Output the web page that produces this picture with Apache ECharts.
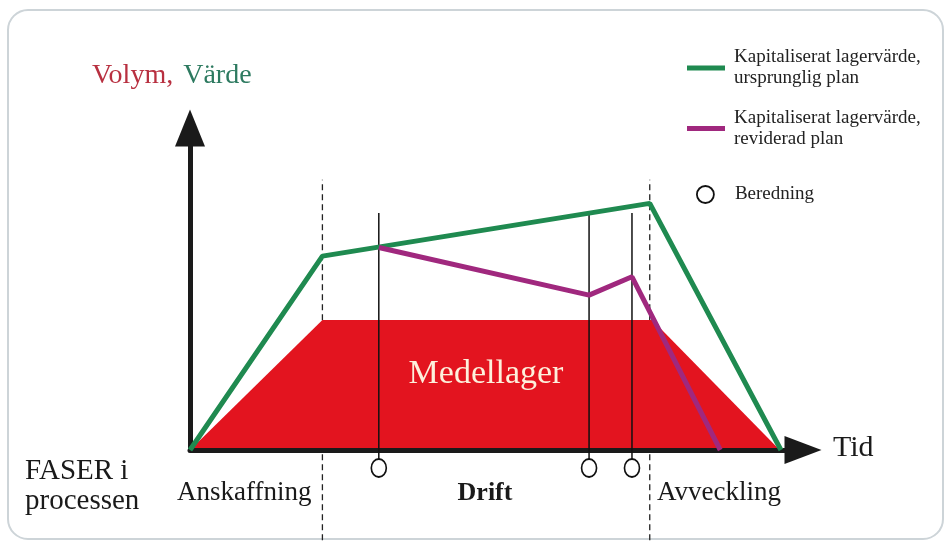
<!DOCTYPE html>
<html>
<head>
<meta charset="utf-8">
<title>Medellager</title>
<script src="https://cdn.jsdelivr.net/npm/echarts@6/dist/echarts.min.js"></script>
<style>
  html, body { margin: 0; background: #fff; }
  #chart { width: 949px; height: 544px; }
</style>
</head>
<body>
<div id="chart"></div>
<script>
// tid (x) och volym/värde (y) i godtyckliga enheter, 0..100
const greenX = [0, 21.6, 75.0, 96.4];
const greenY = [0, 60.2, 76.6, 0];
const purpleX = [30.8, 65.1, 72.1, 86.5];
const purpleY = [62.9, 48.1, 53.8, 0];
const stockX = [0, 21.6, 75.4, 96.2];
const stockY = [0, 40.4, 40.4, 0];
const berednX = [30.8, 65.1, 72.1];
const berednTop = 73.6;
const berednLow = -5.6;
const phaseX = [21.6, 75.0];
const phaseTop = 83.9;
const phaseBottom = -28;

const greenName = "Kapitaliserat lagervärde, ursprunglig plan";
const purpleName = "Kapitaliserat lagervärde, reviderad plan";
const berednName = "Beredning";

const serif = '"Liberation Serif", "DejaVu Serif", serif';
const GREEN = "#1f8a50";
const PURPLE = "#a0287e";
const RED = "#e3141f";

const zip = (xs, ys) => xs.map((x, i) => [x, ys[i]]);

let chart = echarts.init(document.getElementById("chart"));

let series = [];
// streckade faslinjer
phaseX.forEach((x) => {
  series.push({
    type: "line",
    data: [[x, phaseBottom], [x, phaseTop]],
    symbol: "none",
    clip: false,
    silent: true,
    z: 1,
    lineStyle: { type: [6, 4], width: 1.3, color: "#222" },
  });
});
// medellager
series.push({
  type: "line",
  name: "Medellager",
  data: zip(stockX, stockY),
  symbol: "none",
  z: 2,
  lineStyle: { width: 0 },
  itemStyle: { color: RED },
  areaStyle: { color: RED, opacity: 1 },
});
// beredningslinjer
berednX.forEach((x) => {
  series.push({
    type: "line",
    data: [[x, -3.4], [x, berednTop]],
    symbol: "none",
    clip: false,
    silent: true,
    z: 3,
    lineStyle: { width: 1.5, color: "#111" },
  });
});
series.push({
  type: "line",
  name: greenName,
  data: zip(greenX, greenY),
  symbol: "none",
  z: 4,
  itemStyle: { color: GREEN },
  lineStyle: { width: 5, color: GREEN },
});
series.push({
  type: "line",
  name: purpleName,
  data: zip(purpleX, purpleY),
  symbol: "none",
  z: 4,
  itemStyle: { color: PURPLE },
  lineStyle: { width: 5, color: PURPLE },
});
series.push({
  type: "scatter",
  name: berednName,
  data: berednX.map((x) => [x, berednLow]),
  symbol: "circle",
  symbolSize: [15, 18],
  clip: false,
  z: 5,
  itemStyle: { color: "#fff", borderColor: "#111", borderWidth: 1.8, opacity: 1 },
});

const legendText = {
  fontFamily: serif,
  fontSize: 19,
  lineHeight: 21,
  color: "#222",
};

chart.setOption({
  animation: false,
  title: {
    text: "{a|Volym,}  {b|Värde}",
    left: 92,
    top: 62,
    padding: 0,
    textStyle: {
      rich: {
        a: { color: "#b83040", fontSize: 28, fontWeight: "normal", fontFamily: serif },
        b: { color: "#2d7a60", fontSize: 28, fontWeight: "normal", fontFamily: serif },
      },
    },
  },
  grid: { left: 190, right: 146, top: 128, bottom: 94 },
  legend: [
    {
      data: [{ name: greenName, icon: "rect" }],
      left: 687,
      top: 36.5,
      padding: 0,
      itemWidth: 38,
      itemHeight: 5,
      selectedMode: false,
      formatter: (name) => name.replace(", ", ",\n"),
      textStyle: Object.assign({ padding: [21, 0, 0, 4] }, legendText),
    },
    {
      data: [{ name: purpleName, icon: "rect" }],
      left: 687,
      top: 97,
      padding: 0,
      itemWidth: 38,
      itemHeight: 5,
      selectedMode: false,
      formatter: (name) => name.replace(", ", ",\n"),
      textStyle: Object.assign({ padding: [21, 0, 0, 4] }, legendText),
    },
    {
      data: [{ name: berednName, icon: "circle" }],
      left: 696,
      top: 184,
      padding: 0,
      itemWidth: 17,
      itemHeight: 17,
      selectedMode: false,
      itemStyle: { color: "#fff", borderColor: "#111", borderWidth: 1.8 },
      textStyle: Object.assign({ padding: [0, 0, 0, 16] }, legendText),
    },
  ],
  xAxis: {
    type: "value",
    min: 0,
    max: 100,
    z: 3,
    axisLine: {
      show: true,
      onZero: false,
      symbol: ["none", "triangle"],
      symbolSize: [28, 37],
      lineStyle: { color: "#1a1a1a", width: 5 },
    },
    axisTick: { show: false },
    axisLabel: { show: false },
    splitLine: { show: false },
  },
  yAxis: {
    type: "value",
    min: 0,
    max: 100,
    axisLine: {
      show: true,
      onZero: false,
      symbol: ["none", "triangle"],
      symbolSize: [30, 37],
      lineStyle: { color: "#1a1a1a", width: 5 },
    },
    axisTick: { show: false },
    axisLabel: { show: false },
    splitLine: { show: false },
  },
  graphic: [
    {
      type: "rect",
      silent: true,
      z: -10,
      shape: { x: 8, y: 10, width: 935, height: 529, r: 20 },
      style: { fill: "none", stroke: "#cdd4d8", lineWidth: 2 },
    },
    {
      type: "text",
      silent: true,
      z: 10,
      style: { text: "Medellager", x: 486, y: 374, align: "center", verticalAlign: "middle",
        fill: "#fdf0dc", fontSize: 34, fontFamily: serif },
    },
    {
      type: "text",
      silent: true,
      style: { text: "Tid", x: 833, y: 448.5, verticalAlign: "middle",
        fill: "#1a1a1a", fontSize: 30, fontFamily: serif },
    },
    {
      type: "text",
      silent: true,
      style: { text: "FASER i\nprocessen", x: 25, y: 456, verticalAlign: "top", lineHeight: 30,
        fill: "#1a1a1a", fontSize: 29, fontFamily: serif },
    },
    {
      type: "text",
      silent: true,
      style: { text: "Anskaffning", x: 177, y: 493, verticalAlign: "middle",
        fill: "#1a1a1a", fontSize: 27, fontFamily: serif },
    },
    {
      type: "text",
      silent: true,
      style: { text: "Drift", x: 485, y: 493, align: "center", verticalAlign: "middle",
        fill: "#1a1a1a", fontSize: 26, fontWeight: "bold", fontFamily: serif },
    },
    {
      type: "text",
      silent: true,
      style: { text: "Avveckling", x: 657, y: 493, verticalAlign: "middle",
        fill: "#1a1a1a", fontSize: 27, fontFamily: serif },
    },
  ],
  series: series,
});

window.addEventListener("resize", () => {
  chart.resize();
});
</script>
</body>
</html>
